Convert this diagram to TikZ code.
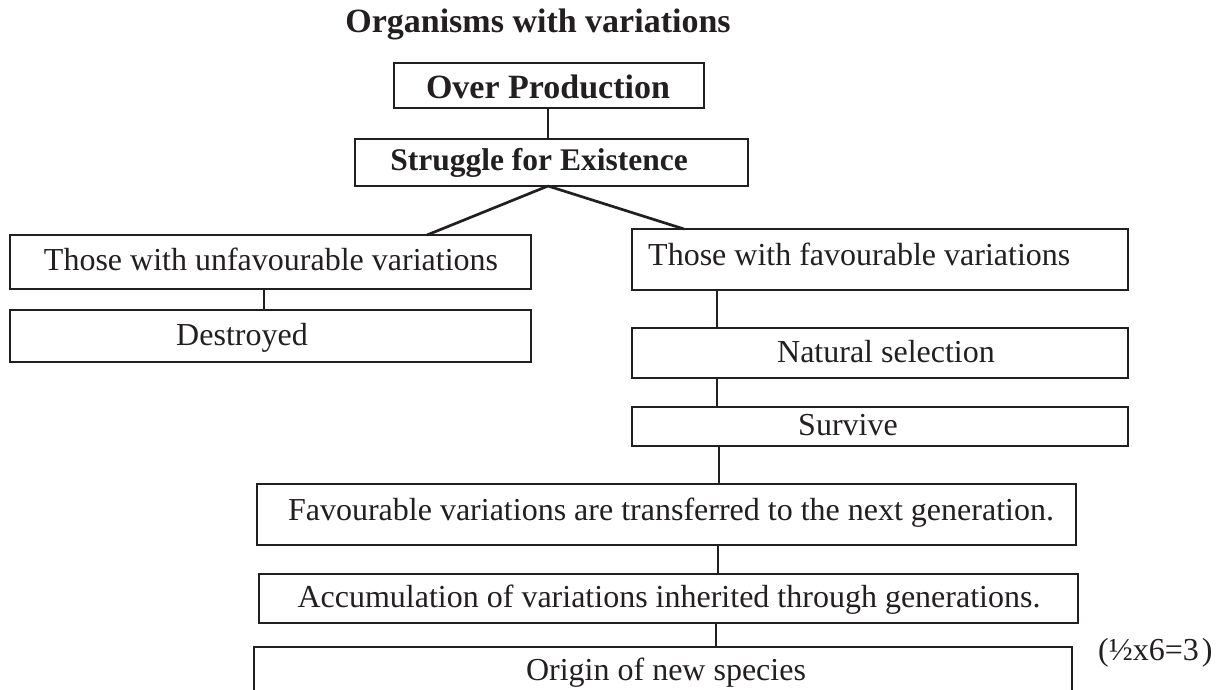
\documentclass[tikz,border=0pt]{standalone}
\usepackage{fontspec}
\setmainfont{Liberation Serif}
\definecolor{ink}{HTML}{231F20}
\begin{document}
\begin{tikzpicture}[x=1pt,y=-1pt,
  box/.style={draw=ink, line width=2.9pt, anchor=north west, inner sep=0pt, outer sep=0pt},
  txt/.style={anchor=base, inner sep=0pt, text=ink, font=\fontsize{32}{38}\selectfont},
  btxt/.style={anchor=base, inner sep=0pt, text=ink, font=\bfseries\fontsize{34}{40}\selectfont},
  link/.style={draw=ink, line width=2.7pt}]
\useasboundingbox (0,0) rectangle (1228,689);
\clip (0,0) rectangle (1228,689);
\fill[white] (0,0) rectangle (1228,689);

\node[btxt] (title) at (538,32) {Organisms with variations};

\node[box, minimum width=310pt, minimum height=45pt] (op) at (394,63) {};
\node[btxt] (optext) at (548,98) {Over Production};

\node[box, minimum width=393pt, minimum height=47pt] (sf) at (355,139) {};
\node[btxt, font=\bfseries\fontsize{31.5}{38}\selectfont] (sftext) at (539,170) {Struggle for Existence};

\node[box, minimum width=521pt, minimum height=54pt] (un) at (10,235) {};
\node[txt] (untext) at (271,270) {Those with unfavourable variations};

\node[box, minimum width=521pt, minimum height=52pt] (de) at (10,310) {};
\node[txt] (detext) at (242,345) {Destroyed};

\node[box, minimum width=496pt, minimum height=61pt] (fa) at (632,229) {};
\node[txt, anchor=base west] (fatext) at (648,265) {Those with favourable variations};

\node[box, minimum width=496pt, minimum height=50pt] (ns) at (632,328) {};
\node[txt] (nstext) at (886,362) {Natural selection};

\node[box, minimum width=496pt, minimum height=39pt] (sv) at (632,407) {};
\node[txt] (svtext) at (848,435) {Survive};

\node[box, minimum width=819pt, minimum height=61pt] (tr) at (257,484) {};
\node[txt] (trtext) at (671,520) {Favourable variations are transferred to the next generation.};

\node[box, minimum width=819pt, minimum height=49pt] (ac) at (259,574) {};
\node[txt] (actext) at (669,607) {Accumulation of variations inherited through generations.};

\node[box, minimum width=818pt, minimum height=60pt] (or) at (254,647) {};
\node[txt] (ortext) at (666,680) {Origin of new species};

\node[txt, anchor=base west] (marks) at (1098,660) {(½x6=3\hspace{3pt})};

% connectors
\draw[link] ([xshift=154pt]op.south west) -- ([xshift=154pt]op.south west |- sf.north);
\draw[link] ([xshift=193pt]sf.south west) -- ([xshift=417pt]un.north west);
\draw[link] ([xshift=193pt]sf.south west) -- ([xshift=52pt]fa.north west);
\draw[link] ([xshift=254pt]un.south west) -- ([xshift=254pt]de.north west);
\draw[link] ([xshift=85pt]fa.south west) -- ([xshift=85pt]ns.north west);
\draw[link] ([xshift=85pt]ns.south west) -- ([xshift=85pt]sv.north west);
\draw[link] ([xshift=87pt]sv.south west) -- ([xshift=87pt]sv.south west |- tr.north);
\draw[link] ([xshift=461pt]tr.south west) -- ([xshift=461pt]tr.south west |- ac.north);
\draw[link] ([xshift=457pt]ac.south west) -- ([xshift=457pt]ac.south west |- or.north);
\end{tikzpicture}
\end{document}
